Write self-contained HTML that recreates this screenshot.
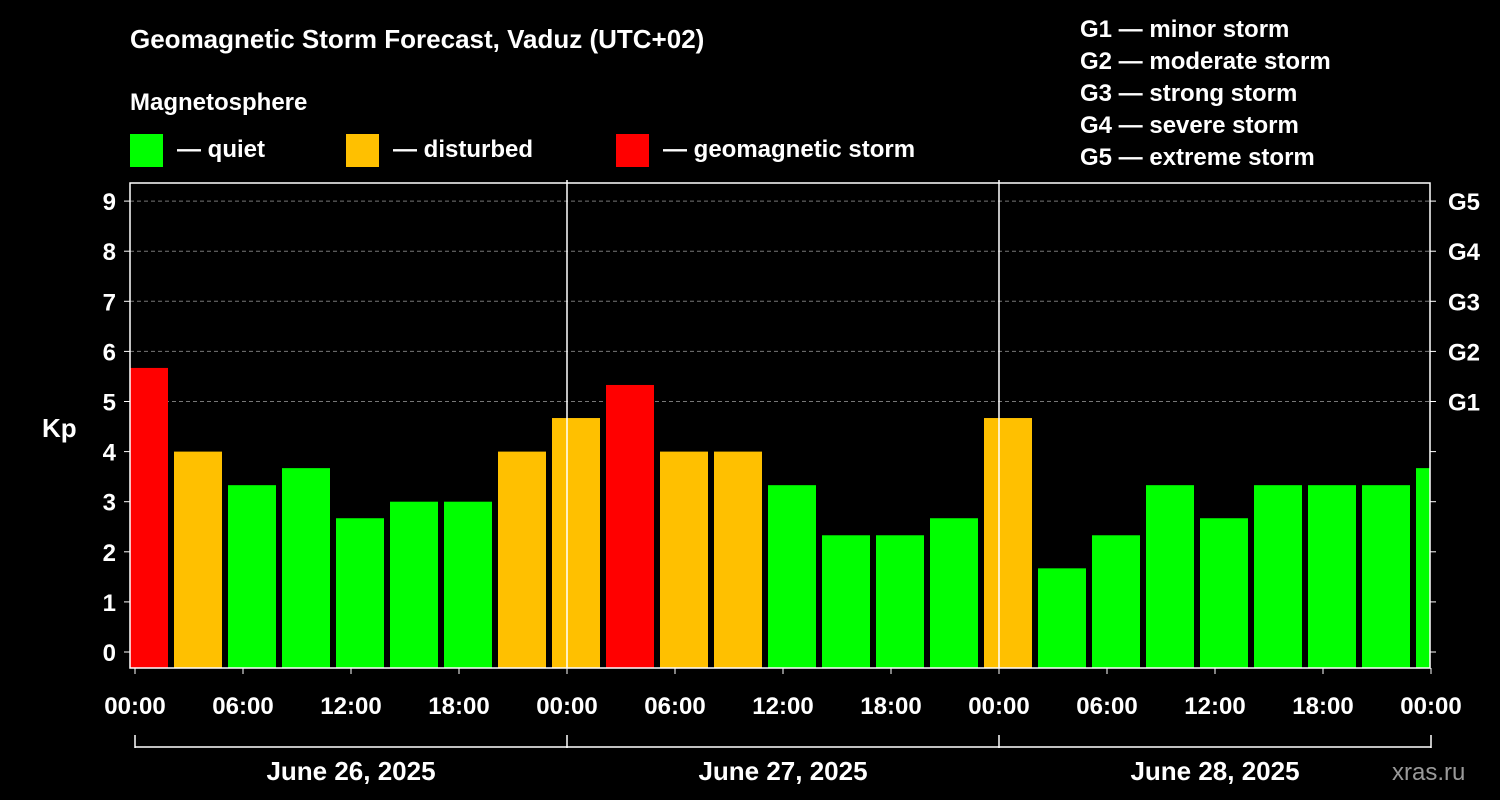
<!DOCTYPE html>
<html><head><meta charset="utf-8"><style>
body{margin:0;background:#000;}
svg{display:block;font-family:"Liberation Sans",Arial,sans-serif;font-weight:bold;}
</style></head><body>
<svg id="chart" width="1500" height="800" xmlns="http://www.w3.org/2000/svg">
<rect width="1500" height="800" fill="#000"/>
<text x="130" y="48" fill="#fff" font-size="26">Geomagnetic Storm Forecast, Vaduz (UTC+02)</text>
<text x="130" y="110" fill="#fff" font-size="24">Magnetosphere</text>
<g>
<rect x="130" y="134" width="33" height="33" fill="#00ff00"/>
<text x="177" y="157" fill="#fff" font-size="24">— quiet</text>
<rect x="346" y="134" width="33" height="33" fill="#ffc000"/>
<text x="393" y="157" fill="#fff" font-size="24">— disturbed</text>
<rect x="616" y="134" width="33" height="33" fill="#ff0000"/>
<text x="663" y="157" fill="#fff" font-size="24">— geomagnetic storm</text>
</g>
<g fill="#fff" font-size="24">
<text x="1080" y="37">G1 — minor storm</text>
<text x="1080" y="69">G2 — moderate storm</text>
<text x="1080" y="101">G3 — strong storm</text>
<text x="1080" y="133">G4 — severe storm</text>
<text x="1080" y="165">G5 — extreme storm</text>
</g>
<text x="42" y="437" fill="#fff" font-size="26">Kp</text>
<g id="grid"></g>
<defs><clipPath id="pc"><rect x="130" y="183" width="1300" height="485"/></clipPath></defs>
<g id="bars" clip-path="url(#pc)"></g>
<g id="axes"></g>
<text x="1392" y="780" fill="#999" font-size="24" font-weight="normal">xras.ru</text>
</svg>
<script>
const kpValues=[5.67,4,3.33,3.67,2.67,3,3,4,4.67,5.33,4,4,3.33,2.33,2.33,2.67,4.67,1.67,2.33,3.33,2.67,3.33,3.33,3.33,3.67];
const yTicks=[0,1,2,3,4,5,6,7,8,9];
const gLabels=["G1","G2","G3","G4","G5"];
const xTickLabels=["00:00","06:00","12:00","18:00","00:00","06:00","12:00","18:00","00:00","06:00","12:00","18:00","00:00"];
const dayLabels=["June 26, 2025","June 27, 2025","June 28, 2025"];
const NS="http://www.w3.org/2000/svg";
const X0=135,PXH=18,Y0=652,PXK=50.1,L=130,R=1430,T=183,B=668;
const xs=h=>X0+h*PXH, ys=k=>Y0-k*PXK;
function mk(tag,attrs,parent,txt){const e=document.createElementNS(NS,tag);for(const k in attrs)e.setAttribute(k,attrs[k]);if(txt!==undefined)e.textContent=txt;document.getElementById(parent).appendChild(e);return e;}
yTicks.forEach(k=>{if(k>=5){const g=mk('line',{x1:L,x2:R,y1:ys(k),y2:ys(k),stroke:'#777','stroke-dasharray':'4,3'},'grid');}});
kpValues.forEach((v,i)=>{const c=3*i+0.5;const col=v>=5?'#ff0000':(v>=4?'#ffc000':'#00ff00');
const r=mk('rect',{x:xs(c)-24,y:ys(v),width:48,height:B-ys(v),fill:col},'bars');
});
mk('rect',{x:L,y:T,width:R-L,height:B-T,fill:'none',stroke:'#fff','stroke-width':1.5},'axes');
[24,48].forEach(h=>{mk('line',{x1:xs(h),x2:xs(h),y1:T-3,y2:B,stroke:'#fff','stroke-width':1.5},'axes');});
yTicks.forEach(k=>{mk('line',{x1:L-6,x2:L,y1:ys(k),y2:ys(k),stroke:'#fff'},'axes');mk('line',{x1:R,x2:R+6,y1:ys(k),y2:ys(k),stroke:'#fff'},'axes');
const t=mk('text',{x:116,y:ys(k)+9,fill:'#fff','font-size':24,'text-anchor':'end'},'axes',String(k));});
gLabels.forEach((g,i)=>{const t=mk('text',{x:1448,y:ys(5+i)+9,fill:'#fff','font-size':24},'axes',g);});
xTickLabels.forEach((s,i)=>{const x=xs(6*i);mk('line',{x1:x,x2:x,y1:B,y2:B+6,stroke:'#fff'},'axes');
const t=mk('text',{x:x,y:714,fill:'#fff','font-size':24,'text-anchor':'middle'},'axes',s);});
mk('line',{x1:xs(0),x2:xs(72),y1:747,y2:747,stroke:'#fff','stroke-width':1.5},'axes');
[0,24,48,72].forEach(h=>mk('line',{x1:xs(h),x2:xs(h),y1:735,y2:748,stroke:'#fff','stroke-width':1.5},'axes'));
dayLabels.forEach((d,i)=>{const t=mk('text',{x:xs(24*i+12),y:780,fill:'#fff','font-size':26,'text-anchor':'middle'},'axes',d);});
</script>
</body></html>
